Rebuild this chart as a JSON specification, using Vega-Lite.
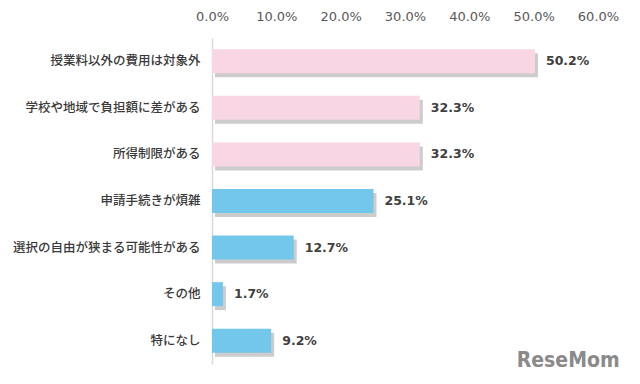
{
  "$schema": "https://vega.github.io/schema/vega-lite/v6.json",
  "width": 386,
  "height": 326,
  "autosize": "none",
  "padding": {"left": 212, "top": 38, "right": 42, "bottom": 20},
  "background": "#ffffff",
  "config": {"view": {"stroke": null}},
  "title": {
    "text": "ReseMom",
    "orient": "bottom",
    "anchor": "end",
    "font": "DejaVu Sans Condensed",
    "fontWeight": "bold",
    "fontSize": 21,
    "color": "#8a8a8a",
    "offset": -14,
    "dx": 1
  },
  "data": {
    "values": [
      {"item": "授業料以外の費用は対象外", "v": 0.502, "grp": "a"},
      {"item": "学校や地域で負担額に差がある", "v": 0.323, "grp": "a"},
      {"item": "所得制限がある", "v": 0.323, "grp": "a"},
      {"item": "申請手続きが煩雑", "v": 0.251, "grp": "b"},
      {"item": "選択の自由が狭まる可能性がある", "v": 0.127, "grp": "b"},
      {"item": "その他", "v": 0.017, "grp": "b"},
      {"item": "特になし", "v": 0.092, "grp": "b"}
    ]
  },
  "encoding": {
    "y": {
      "field": "item",
      "type": "nominal",
      "sort": null,
      "scale": {"paddingInner": 0.485, "paddingOuter": 0.2425},
      "axis": {
        "title": null,
        "ticks": false,
        "labelPadding": 12,
        "labelFont": "Noto Sans CJK JP",
        "labelFontSize": 12.5,
        "labelFontWeight": 500,
        "labelColor": "#3a3a3a",
        "domainColor": "#d9d9d9",
        "domainWidth": 1.5,
        "labelLimit": 300
      }
    },
    "x": {
      "field": "v",
      "type": "quantitative",
      "scale": {"domain": [0, 0.6]},
      "axis": {
        "orient": "top",
        "title": null,
        "values": [0, 0.1, 0.2, 0.3, 0.4, 0.5, 0.6],
        "format": ".1%",
        "grid": false,
        "ticks": false,
        "domain": false,
        "labelFlush": false,
        "labelOverlap": false,
        "labelBound": false,
        "labelPadding": 15,
        "labelFont": "DejaVu Sans",
        "labelFontSize": 13,
        "labelColor": "#595959"
      }
    }
  },
  "layer": [
    {
      "mark": {"type": "bar", "color": "#555555", "opacity": 0.3, "xOffset": 3, "yOffset": 4},
      "encoding": {}
    },
    {
      "mark": {"type": "bar"},
      "encoding": {
        "color": {
          "field": "grp",
          "type": "nominal",
          "scale": {"domain": ["a", "b"], "range": ["#f8d6e4", "#72c7ea"]},
          "legend": null
        }
      }
    },
    {
      "mark": {"type": "text", "align": "left", "baseline": "middle", "dx": 11, "font": "DejaVu Sans", "fontWeight": "bold", "fontSize": 12.5, "color": "#404040"},
      "encoding": {
        "text": {"field": "v", "type": "quantitative", "format": ".1%"}
      }
    }
  ]
}
